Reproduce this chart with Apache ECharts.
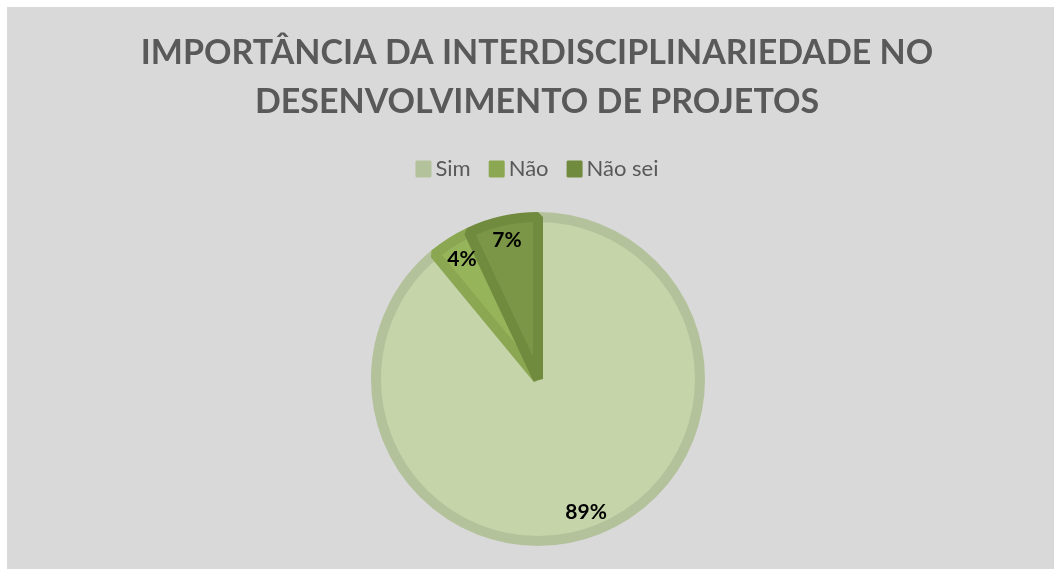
<!DOCTYPE html>
<html lang="pt">
<head>
    <meta charset="UTF-8">
    <title>Importância da interdisciplinaridade</title>
    <style>
        html,body{
            padding: 0;margin: 0;background: #fff;overflow: hidden;
            width: 1054px;height: 569px;
        }
        #chart{
            position: absolute;left: 7px;top: 7px;width: 1060px;height: 570px;
            background: #d9d9d9;
        }
    </style>
    <script src="https://cdn.jsdelivr.net/npm/echarts@6/dist/echarts.min.js"></script>
</head>
<body>
<div id="chart"></div>
<script>
    // dados
    var categorias = ['Sim', 'Não', 'Não sei'];
    var valores = [89, 4, 7];
    var coresFundo = ['#c5d5a9', '#96b45a', '#7b9646'];
    var coresBorda = ['#b3c29b', '#8ba751', '#708b3e'];

    var myChart = echarts.init(document.getElementById('chart'));

    var dadosPizza = [];
    var dadosRotulo = [];
    for (var i = 0; i < categorias.length; i++) {
        dadosPizza.push({
            name: categorias[i],
            value: valores[i],
            itemStyle: {color: coresFundo[i], borderColor: coresBorda[i]}
        });
        dadosRotulo.push({name: categorias[i], value: valores[i]});
    }

    var option = {
        title: {
            text: 'IMPORTÂNCIA DA INTERDISCIPLINARIEDADE NO\nDESENVOLVIMENTO DE PROJETOS',
            left: 'center',
            top: 17,
            textStyle: {
                fontFamily: 'Lato',
                fontWeight: 'bold',
                fontSize: 34,
                lineHeight: 49,
                color: '#595959'
            }
        },
        legend: {
            data: categorias.map(function (c, i) {
                return {name: c, itemStyle: {color: coresBorda[i]}};
            }),
            top: 146,
            left: 'center',
            icon: 'rect',
            itemWidth: 14,
            itemHeight: 15,
            itemGap: 18,
            textStyle: {fontFamily: 'Lato', fontSize: 22, color: '#595959'},
            selectedMode: false
        },
        series: [
            {
                name: 'Importância',
                type: 'pie',
                center: [531, 372],
                radius: [0, 162],
                startAngle: 90,
                clockwise: true,
                silent: true,
                label: {show: false},
                labelLine: {show: false},
                itemStyle: {borderWidth: 10, borderJoin: 'bevel'},
                data: dadosPizza
            },
            {
                name: 'Rótulos',
                type: 'pie',
                center: [531, 372],
                radius: [110, 168],
                startAngle: 90,
                clockwise: true,
                silent: true,
                itemStyle: {color: 'rgba(0,0,0,0)', borderWidth: 0},
                labelLine: {show: false},
                label: {
                    show: true,
                    position: 'inside',
                    formatter: '{c}%',
                    fontFamily: 'Lato',
                    fontWeight: 'bold',
                    fontSize: 21,
                    color: '#000'
                },
                data: dadosRotulo
            }
        ]
    };
    myChart.setOption(option);
</script>
</body>
</html>
